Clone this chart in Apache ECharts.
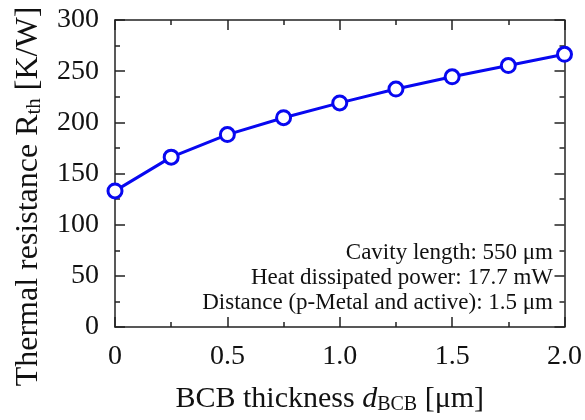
<!DOCTYPE html>
<html><head><meta charset="utf-8">
<script src="https://cdn.jsdelivr.net/npm/echarts@6/dist/echarts.min.js"></script>
<style>html,body{margin:0;padding:0;background:#fff}#c{width:585px;height:420px}</style>
</head><body><div id="c"></div>
<script>
const thickness = [0, 0.25, 0.5, 0.75, 1.0, 1.25, 1.5, 1.75, 2.0];
const rth = [133, 166, 188, 204.5, 219, 232.5, 244.5, 255.5, 266.5];
const notes = ['Cavity length: 550 μm', 'Heat dissipated power: 17.7 mW', 'Distance (p-Metal and active): 1.5 μm'];
const F = 'Liberation Serif, Times New Roman, serif';
const axisLine = {show: true, onZero: false, lineStyle: {color: '#222', width: 1.5}};
const tick = {show: true, inside: true, length: 10, lineStyle: {color: '#222', width: 1.5}};
const minor = {show: true, splitNumber: 2, length: 5, lineStyle: {color: '#222', width: 1.5}};
const chart = echarts.init(document.getElementById('c'));
chart.setOption({
  animation: false,
  grid: {left: 115, right: 19, top: 20, bottom: 91, containLabel: false},
  xAxis: [{
    type: 'value', min: 0, max: 2, interval: 0.5, position: 'bottom',
    axisLine, axisTick: tick, minorTick: minor, splitLine: {show: false},
    axisLabel: {fontFamily: F, fontSize: 28, color: '#111', margin: 16,
      formatter: v => v === 0 ? '0' : v.toFixed(1)},
    name: 'BCB thickness {it|d}{sub|BCB} [μm]', nameLocation: 'middle', nameGap: 56,
    nameTextStyle: {fontFamily: F, fontSize: 30, color: '#111', padding: [0, 20, 0, 0],
      rich: {it: {fontFamily: F, fontSize: 30, fontStyle: 'italic', color: '#111'},
             sub: {fontFamily: F, fontSize: 20, color: '#111', verticalAlign: 'bottom', padding: [12, 0, 0, 0]}}}
  }, {
    type: 'value', min: 0, max: 2, interval: 0.5, position: 'top',
    axisLine, axisTick: tick, minorTick: minor, splitLine: {show: false}, axisLabel: {show: false}
  }],
  yAxis: [{
    type: 'value', min: 0, max: 300, interval: 50, position: 'left',
    axisLine, axisTick: tick, minorTick: minor, splitLine: {show: false},
    axisLabel: {fontFamily: F, fontSize: 28, color: '#111', margin: 16},
    name: 'Thermal resistance R{sub|th} [K/W]', nameLocation: 'middle', nameGap: 70,
    nameTextStyle: {fontFamily: F, fontSize: 32, color: '#111', padding: [0, 46, 0, 0],
      rich: {sub: {fontFamily: F, fontSize: 21, color: '#111', verticalAlign: 'bottom', padding: [12, 0, 0, 0]}}}
  }, {
    type: 'value', min: 0, max: 300, interval: 50, position: 'right',
    axisLine, axisTick: tick, minorTick: minor, splitLine: {show: false}, axisLabel: {show: false}
  }],
  graphic: notes.map((t, i) => ({
    type: 'text', right: 32, top: 241 + i * 25,
    style: {text: t, font: '23px ' + F, fill: '#111', textAlign: 'right'}
  })),
  series: [{
    type: 'line', data: thickness.map((x, i) => [x, rth[i]]),
    symbol: 'circle', symbolSize: 14,
    lineStyle: {color: '#0808f0', width: 3},
    itemStyle: {color: '#fff', borderColor: '#0808f0', borderWidth: 3},
    z: 5
  }]
});
</script></body></html>
